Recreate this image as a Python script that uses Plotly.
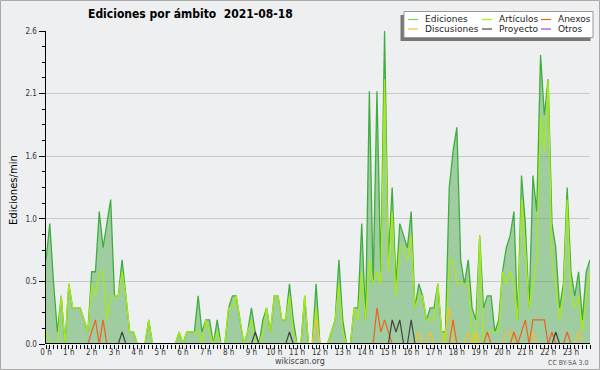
import plotly.graph_objects as go

# ---------------- data (edits per minute, 10-minute bins, 2021-08-18) ----------------
bins_per_hour = 6

ediciones = [
    0.7, 1.0, 0.5, 0.1, 0.4, 0.0, 0.5, 0.3, 0.3, 0.3, 0.2, 0.1,
    0.6, 0.6, 1.1, 0.8, 1.0, 1.2, 0.4, 0.4, 0.7, 0.4, 0.1, 0.1,
    0.0, 0.0, 0.0, 0.2, 0.0, 0.0, 0.0, 0.0, 0.0, 0.0, 0.0, 0.1,
    0.0, 0.1, 0.1, 0.1, 0.4, 0.1, 0.2, 0.2, 0.0, 0.2, 0.0, 0.0,
    0.3, 0.4, 0.4, 0.2, 0.0, 0.1, 0.3, 0.1, 0.0, 0.2, 0.3, 0.1,
    0.4, 0.4, 0.2, 0.2, 0.5, 0.2, 0.0, 0.0, 0.4, 0.0, 0.0, 0.5,
    0.0, 0.0, 0.0, 0.1, 0.2, 0.7, 0.2, 0.0, 0.0, 0.3, 0.3, 1.0,
    0.2, 2.1, 0.5, 2.1, 0.6, 2.6, 0.7, 1.3, 0.5, 1.0, 0.9, 0.8,
    1.1, 0.3, 0.5, 0.4, 0.2, 0.3, 0.3, 0.5, 0.1, 0.1, 1.3, 1.6,
    1.8, 0.7, 0.5, 0.7, 0.3, 0.2, 0.9, 0.3, 0.4, 0.4, 0.1, 0.2,
    0.6, 0.8, 0.9, 1.1, 0.2, 1.4, 1.0, 0.3, 1.4, 1.1, 2.4, 1.9,
    2.2, 1.0, 0.8, 0.3, 0.5, 1.3, 0.6, 0.4, 0.6, 0.2, 0.6, 0.7,
]

articulos = [
    0.1, 0.0, 0.0, 0.0, 0.4, 0.0, 0.5, 0.3, 0.3, 0.3, 0.2, 0.1,
    0.5, 0.4, 0.6, 0.6, 0.2, 0.4, 0.4, 0.4, 0.6, 0.4, 0.1, 0.1,
    0.0, 0.0, 0.0, 0.2, 0.0, 0.0, 0.0, 0.0, 0.0, 0.0, 0.0, 0.1,
    0.0, 0.1, 0.1, 0.1, 0.1, 0.0, 0.2, 0.1, 0.0, 0.1, 0.0, 0.0,
    0.3, 0.3, 0.4, 0.2, 0.0, 0.1, 0.2, 0.0, 0.0, 0.1, 0.3, 0.1,
    0.4, 0.4, 0.2, 0.2, 0.4, 0.1, 0.0, 0.0, 0.4, 0.0, 0.0, 0.3,
    0.0, 0.0, 0.0, 0.1, 0.2, 0.5, 0.1, 0.0, 0.0, 0.3, 0.2, 0.6,
    0.2, 0.7, 0.5, 0.6, 0.5, 2.2, 0.6, 1.1, 0.4, 0.8, 0.8, 0.7,
    0.9, 0.3, 0.4, 0.4, 0.2, 0.2, 0.2, 0.5, 0.1, 0.0, 0.7, 0.7,
    0.5, 0.5, 0.5, 0.5, 0.1, 0.0, 0.9, 0.0, 0.1, 0.1, 0.1, 0.1,
    0.6, 0.5, 0.6, 0.5, 0.2, 1.2, 0.8, 0.3, 0.5, 0.7, 1.9, 1.6,
    2.2, 0.7, 0.5, 0.2, 0.4, 1.2, 0.4, 0.3, 0.4, 0.1, 0.4, 0.6,
]

anexos = [
    0, 0, 0, 0, 0, 0, 0, 0, 0, 0, 0, 0,
    0.1, 0.2, 0, 0.2, 0, 0, 0, 0, 0, 0, 0, 0,
    0, 0, 0, 0, 0, 0, 0, 0, 0, 0, 0, 0,
    0, 0, 0, 0, 0, 0, 0, 0, 0, 0, 0, 0,
    0, 0, 0, 0, 0, 0, 0, 0, 0, 0, 0, 0,
    0, 0, 0, 0, 0, 0, 0, 0, 0, 0, 0, 0,
    0, 0, 0, 0, 0, 0, 0, 0, 0, 0, 0, 0,
    0, 0, 0, 0.3, 0.1, 0.2, 0.1, 0, 0, 0, 0, 0,
    0, 0, 0, 0, 0, 0, 0, 0, 0, 0, 0, 0.2,
    0, 0, 0, 0, 0, 0, 0, 0, 0.1, 0, 0, 0,
    0, 0, 0, 0.1, 0, 0.1, 0.2, 0, 0.2, 0.2, 0.2, 0.2,
    0, 0.1, 0, 0, 0, 0.1, 0, 0, 0, 0, 0, 0,
]

discusiones = [
    0, 0, 0, 0, 0, 0, 0, 0, 0, 0, 0, 0,
    0, 0, 0, 0, 0, 0, 0, 0, 0, 0, 0, 0,
    0, 0, 0, 0, 0, 0, 0, 0, 0, 0, 0, 0,
    0, 0, 0, 0, 0, 0, 0, 0, 0, 0, 0, 0,
    0, 0, 0, 0, 0, 0, 0, 0, 0, 0, 0, 0,
    0, 0, 0, 0, 0, 0, 0, 0, 0, 0, 0, 0.2,
    0, 0, 0, 0, 0, 0, 0, 0, 0, 0, 0, 0,
    0, 0, 0, 0, 0, 0, 0, 0, 0, 0, 0, 0,
    0, 0, 0.1, 0, 0, 0.1, 0, 0, 0, 0.1, 0.3, 0,
    0, 0, 0, 0.1, 0, 0.1, 0, 0, 0, 0, 0, 0,
    0, 0.1, 0.1, 0, 0, 0, 0, 0, 0.1, 0, 0, 0,
    0, 0, 0, 0, 0, 0, 0, 0, 0.1, 0, 0, 0,
]

proyecto = [
    0, 0, 0, 0, 0, 0, 0, 0, 0, 0, 0, 0,
    0, 0, 0, 0, 0, 0, 0, 0, 0.1, 0, 0, 0,
    0, 0, 0, 0, 0, 0, 0, 0, 0, 0, 0, 0,
    0, 0, 0, 0, 0, 0, 0, 0, 0, 0, 0, 0,
    0, 0, 0, 0, 0, 0, 0, 0.1, 0, 0, 0, 0,
    0, 0, 0, 0, 0.1, 0, 0, 0, 0, 0, 0, 0,
    0, 0, 0, 0, 0, 0, 0, 0, 0, 0, 0, 0,
    0, 0, 0, 0, 0, 0, 0, 0.2, 0.1, 0.2, 0, 0,
    0.2, 0, 0, 0, 0, 0, 0, 0, 0, 0, 0, 0,
    0, 0, 0, 0, 0, 0, 0, 0, 0, 0, 0, 0,
    0, 0, 0, 0, 0, 0, 0, 0, 0, 0, 0, 0,
    0, 0, 0.1, 0, 0, 0, 0, 0, 0, 0, 0, 0,
]

otros = [0] * 144

series_names = ["Ediciones", "Artículos", "Anexos", "Discusiones", "Proyecto", "Otros"]
hour_labels = ["0 h", "1 h", "2 h", "3 h", "4 h", "5 h", "6 h", "7 h", "8 h", "9 h",
               "10 h", "11 h", "12 h", "13 h", "14 h", "15 h", "16 h", "17 h", "18 h",
               "19 h", "20 h", "21 h", "22 h", "23 h"]
y_tick_labels = ["0.0", "0.5", "1.0", "1.6", "2.1", "2.6"]
title_text = "Ediciones por ámbito\u00a0\u00a02021-08-18"
y_title = "Ediciones/min"
site_text = "wikiscan.org"
license_text = "CC BY-SA 3.0"

# ---------------- styling ----------------
W, H = 600, 370
ML, MR, MT, MB = 46, 10, 31, 26
PW, PH = W - ML - MR, H - MT - MB
BG = "#eeeff1"
FONT = "DejaVu Sans Condensed, DejaVu Sans"

colors = {
    "Ediciones": "#3fae3f",
    "Artículos": "#a8ec10",
    "Anexos": "#ee6320",
    "Discusiones": "#f2c12e",
    "Proyecto": "#444444",
    "Otros": "#9b45e4",
}
legend_colors = dict(colors, Ediciones="#7ccc7c")


def px_x(px):
    return (px - ML) / PW


def px_y(py):
    return (H - MB - py) / PH


n = len(ediciones)
x = [i / bins_per_hour for i in range(n)]
xmax = x[-1]
ymax = max(ediciones)

fig = go.Figure()
fig.add_trace(go.Scatter(x=x, y=ediciones, name=series_names[0], mode="lines",
                         line=dict(color=colors["Ediciones"], width=1.3),
                         fill="tozeroy", fillcolor="rgba(80,170,80,0.5)"))
for name, vals in [("Artículos", articulos), ("Discusiones", discusiones),
                   ("Anexos", anexos), ("Proyecto", proyecto), ("Otros", otros)]:
    fig.add_trace(go.Scatter(x=x, y=vals, name=name, mode="lines",
                             line=dict(color=colors[name], width=1.2)))

# y ticks: five equal divisions of the maximum
ystep = ymax / (len(y_tick_labels) - 1)
y_major = [k * ystep for k in range(len(y_tick_labels))]
y_minor = [k * ystep / 4 for k in range(4 * (len(y_tick_labels) - 1) + 1)]

fig.update_yaxes(range=[0, ymax], tickvals=y_major, ticktext=y_tick_labels,
                 ticks="outside", ticklen=6, tickwidth=1, tickcolor="black",
                 showline=True, linecolor="black", linewidth=1.5,
                 showgrid=True, gridcolor="#c9c9c9", gridwidth=1, zeroline=False,
                 tickfont=dict(family=FONT, size=8, color="#333"),
                 minor=dict(tickvals=y_minor, ticks="outside", ticklen=3,
                            tickcolor="black", tickwidth=1, showgrid=False),
                 fixedrange=True)

fig.update_xaxes(range=[0, xmax], tickvals=x,
                 ticktext=[hour_labels[i // bins_per_hour] if i % bins_per_hour == 0 else ""
                           for i in range(n)],
                 ticks="outside", ticklen=4, tickwidth=1, tickcolor="black",
                 showline=False, showgrid=False, zeroline=False,
                 tickangle=0, ticklabelstandoff=-4,
                 tickfont=dict(family=FONT, size=8, color="#333"),
                 fixedrange=True)

shapes = [
    # baseline (axis line on top of the zero-valued series)
    dict(type="line", xref="x", yref="y", x0=0, x1=xmax, y0=0, y1=0,
         line=dict(color="black", width=2), layer="above"),
    # outer frame
    dict(type="rect", xref="paper", yref="paper",
         x0=px_x(0.5), x1=px_x(W - 0.5), y0=px_y(H - 0.5), y1=px_y(0.5),
         line=dict(color="#aaaaaa", width=1), layer="above"),
    # legend shadow and box
    dict(type="rect", xref="paper", yref="paper",
         x0=px_x(400.5), x1=px_x(590.5), y0=px_y(41), y1=px_y(15),
         line=dict(width=0), fillcolor="#777777", layer="above"),
    dict(type="rect", xref="paper", yref="paper",
         x0=px_x(404), x1=px_x(593), y0=px_y(37.5), y1=px_y(11.5),
         line=dict(color="#999999", width=1), fillcolor="white", layer="above"),
]

annotations = [
    dict(text=title_text, xref="paper", yref="paper", x=px_x(86), y=px_y(14),
         xanchor="left", yanchor="middle", showarrow=False,
         font=dict(family=FONT, size=12, color="black", weight="bold")),
    dict(text=y_title, xref="paper", yref="paper", x=px_x(13), y=px_y(190),
         xanchor="center", yanchor="middle", showarrow=False, textangle=-90,
         font=dict(family="DejaVu Sans", size=10, color="black")),
    dict(text=site_text, xref="paper", yref="paper", x=px_x(300), y=px_y(361),
         xanchor="center", yanchor="middle", showarrow=False,
         font=dict(family="DejaVu Sans", size=8, color="#444")),
    dict(text=license_text, xref="paper", yref="paper", x=px_x(590), y=px_y(362.5),
         xanchor="right", yanchor="middle", showarrow=False,
         font=dict(family=FONT, size=7, color="#555")),
]

# manual 3-column legend
legend_order = ["Ediciones", "Artículos", "Anexos", "Discusiones", "Proyecto", "Otros"]
col_x = [408, 482, 541]
row_y = [19.5, 29]
for k, name in enumerate(legend_order):
    cx = col_x[k % 3]
    cy = row_y[k // 3]
    shapes.append(dict(type="line", xref="paper", yref="paper",
                       x0=px_x(cx), x1=px_x(cx + 10), y0=px_y(cy), y1=px_y(cy),
                       line=dict(color=legend_colors[name], width=1.2), layer="above"))
    annotations.append(dict(text=name, xref="paper", yref="paper",
                            x=px_x(cx + 15), y=px_y(cy), xanchor="left", yanchor="middle",
                            showarrow=False,
                            font=dict(family="DejaVu Sans", size=9, color="#222")))

fig.update_layout(width=W, height=H, autosize=False,
                  margin=dict(l=ML, r=MR, t=MT, b=MB, pad=0),
                  paper_bgcolor=BG, plot_bgcolor=BG,
                  showlegend=False, hovermode=False,
                  shapes=shapes, annotations=annotations)

fig.write_html("out.html",
               config={"displayModeBar": False, "staticPlot": True},
               post_script="document.body.style.margin='0';document.body.style.padding='0';")
